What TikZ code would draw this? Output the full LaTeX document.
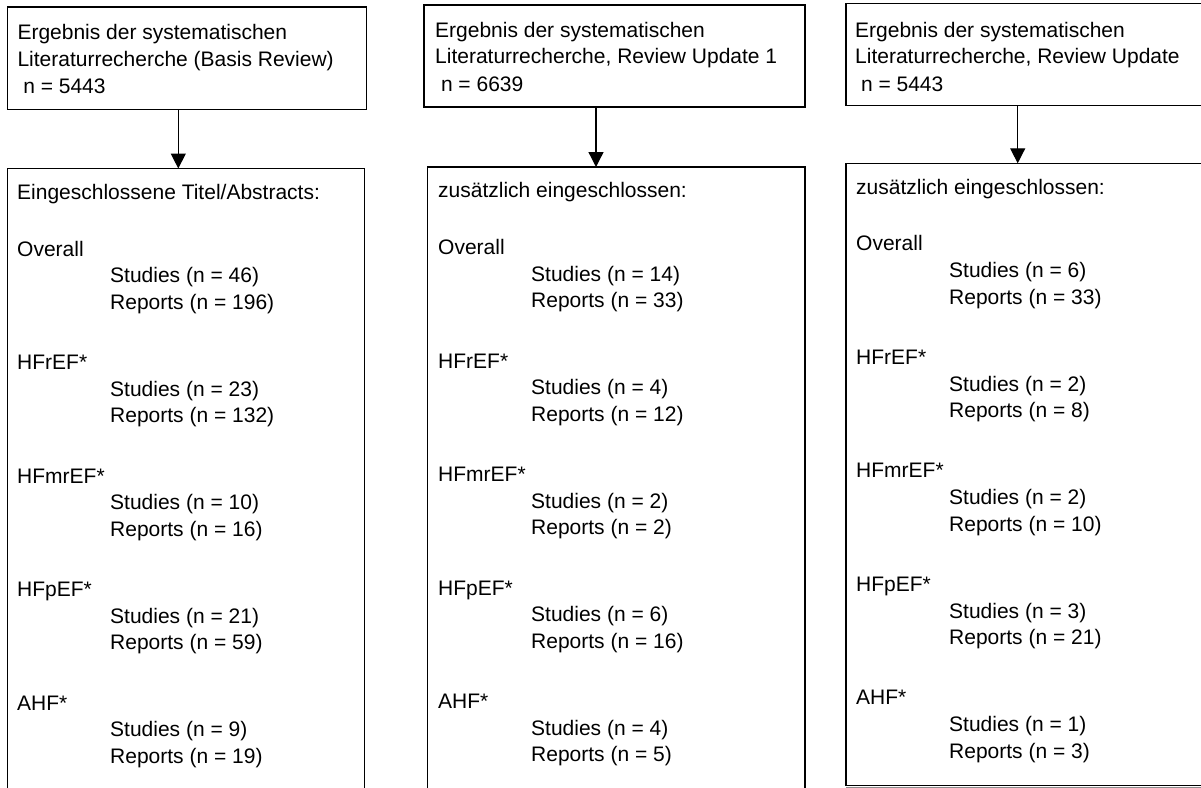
\documentclass[tikz,border=0pt]{standalone}
\usepackage{fontspec}
\setmainfont{Liberation Sans}
\usetikzlibrary{arrows.meta}
% one group of counts: heading, then indented Studies / Reports lines
% #1 name prefix, #2 x of heading, #3 baseline of heading, #4 heading, #5 studies, #6 reports
\newcommand\countgroup[6]{%
  \node[txt] (#1h) at (#2,#3) {#4};
  \node[txt] (#1s) at (#2+93,#3+26.7) {Studies (n = #5)};
  \node[txt] (#1r) at (#2+93,#3+53.4) {Reports (n = #6)};
}
\begin{document}
\begin{tikzpicture}[x=1pt,y=-1pt,
  box/.style={draw, line width=1.3pt, inner sep=0pt, outer sep=0pt, anchor=north west},
  txt/.style={anchor=base west, inner sep=0pt, font=\fontsize{21}{26}\selectfont},
  arr/.style={line width=1.3pt, -{Triangle[width=15pt,length=15pt]}}]
\clip (0,0) rectangle (1201,787);

% search result boxes
\node[box, minimum width=359.2pt, minimum height=102.3pt] (top1) at (7.5,7) {};
\node[box, minimum width=381pt, minimum height=102pt] (top2) at (424,5) {};
\node[box, minimum width=370pt, minimum height=102pt] (top3) at (846,3.3) {};

% included records boxes (open towards the page bottom)
\node[box, minimum width=357.2pt, minimum height=700pt] (bot1) at (7.5,168.5) {};
\node[box, minimum width=377.3pt, minimum height=700pt] (bot2) at (427.7,167) {};
% the third one has a thin shadow under its lower edge
\draw[black!45, line width=1.2pt] ([yshift=-1.6pt]846,785.5) -- ([yshift=-1.6pt]1201,785.5);
\node[box, fill=white, minimum width=370pt, minimum height=622.2pt] (bot3) at (846,163.3) {};

% connectors
\coordinate (a1) at (178.3,0);
\coordinate (a2) at (596,0);
\coordinate (a3) at (1017.7,0);
\draw[arr] (top1.south -| a1) -- (bot1.north -| a1);
\draw[arr] (top2.south -| a2) -- (bot2.north -| a2);
\draw[arr] (top3.south -| a3) -- (bot3.north -| a3);

% texts of the search result boxes
\node[txt] (t1a) at (17.3,39.5) {Ergebnis der systematischen};
\node[txt] (t1b) at (17.3,66) {Literaturrecherche (Basis Review)};
\node[txt] (t1c) at (23.1,93) {n = 5443};

\node[txt] (t2a) at (435,37.5) {Ergebnis der systematischen};
\node[txt] (t2b) at (435,63.5) {Literaturrecherche, Review Update 1};
\node[txt] (t2c) at (440.8,91.5) {n = 6639};

\node[txt] (t3a) at (855,37.5) {Ergebnis der systematischen};
\node[txt] (t3b) at (855,63.5) {Literaturrecherche, Review Update};
\node[txt] (t3c) at (860.8,91.5) {n = 5443};

% column 1
\node[txt] (h1) at (17,199.3) {Eingeschlossene Titel/Abstracts:};
\countgroup{c1o}{17}{256}{Overall}{46}{196}
\countgroup{c1r}{17}{369.5}{HFrEF*}{23}{132}
\countgroup{c1m}{17}{483}{HFmrEF*}{10}{16}
\countgroup{c1p}{17}{596.5}{HFpEF*}{21}{59}
\countgroup{c1a}{17}{710}{AHF*}{9}{19}

% column 2
\node[txt] (h2) at (438,197.8) {zusätzlich eingeschlossen:};
\countgroup{c2o}{438}{254.5}{Overall}{14}{33}
\countgroup{c2r}{438}{368}{HFrEF*}{4}{12}
\countgroup{c2m}{438}{481.5}{HFmrEF*}{2}{2}
\countgroup{c2p}{438}{595}{HFpEF*}{6}{16}
\countgroup{c2a}{438}{708.5}{AHF*}{4}{5}

% column 3
\node[txt] (h3) at (856,194.1) {zusätzlich eingeschlossen:};
\countgroup{c3o}{856}{250.8}{Overall}{6}{33}
\countgroup{c3r}{856}{364.3}{HFrEF*}{2}{8}
\countgroup{c3m}{856}{477.8}{HFmrEF*}{2}{10}
\countgroup{c3p}{856}{591.3}{HFpEF*}{3}{21}
\countgroup{c3a}{856}{704.8}{AHF*}{1}{3}
\end{tikzpicture}
\end{document}
